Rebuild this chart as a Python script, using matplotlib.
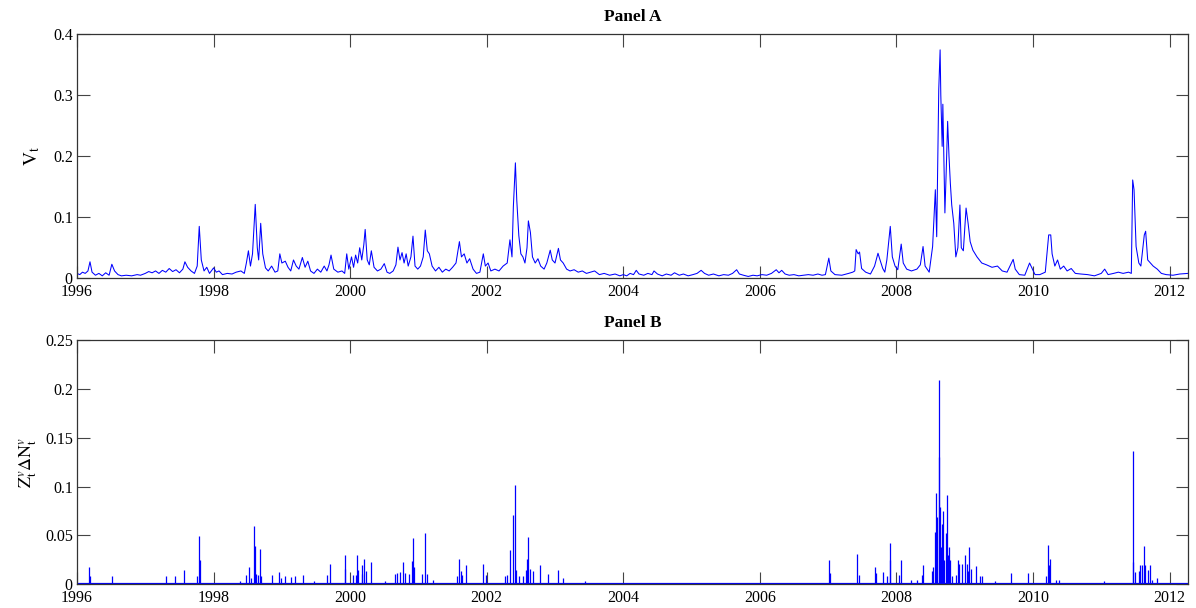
import matplotlib
matplotlib.use("Agg")
import matplotlib.pyplot as plt
from matplotlib.ticker import FuncFormatter

# ---------------- Panel A: V_t ----------------
va_years = [
    1996.00, 1996.04, 1996.08, 1996.12, 1996.16, 1996.19, 1996.22, 1996.27, 1996.32, 1996.37,
    1996.42, 1996.47, 1996.51, 1996.55, 1996.60, 1996.65, 1996.72, 1996.80, 1996.88, 1996.93,
    1997.00, 1997.05, 1997.10, 1997.15, 1997.20, 1997.25, 1997.30, 1997.35, 1997.40, 1997.45,
    1997.50, 1997.55, 1997.58, 1997.62, 1997.67, 1997.72, 1997.76, 1997.79, 1997.82, 1997.86,
    1997.90, 1997.94, 1998.00, 1998.04, 1998.08, 1998.13, 1998.20, 1998.27, 1998.33, 1998.40,
    1998.45, 1998.48, 1998.51, 1998.54, 1998.57, 1998.61, 1998.64, 1998.66, 1998.69, 1998.72,
    1998.76, 1998.80, 1998.85, 1998.90, 1998.94, 1998.97, 1999.00, 1999.05, 1999.09, 1999.13,
    1999.17, 1999.21, 1999.25, 1999.30, 1999.34, 1999.38, 1999.42, 1999.47, 1999.52, 1999.57,
    1999.62, 1999.66, 1999.69, 1999.72, 1999.76, 1999.82, 1999.88, 1999.92, 1999.95, 1999.98,
    2000.02, 2000.05, 2000.08, 2000.11, 2000.14, 2000.17, 2000.20, 2000.22, 2000.25, 2000.28,
    2000.31, 2000.35, 2000.40, 2000.45, 2000.50, 2000.54, 2000.58, 2000.63, 2000.67, 2000.70,
    2000.73, 2000.76, 2000.79, 2000.82, 2000.85, 2000.89, 2000.92, 2000.95, 2000.99, 2001.03,
    2001.07, 2001.10, 2001.13, 2001.16, 2001.20, 2001.25, 2001.30, 2001.35, 2001.40, 2001.45,
    2001.50, 2001.55, 2001.60, 2001.63, 2001.67, 2001.71, 2001.75, 2001.80, 2001.85, 2001.90,
    2001.95, 2001.98, 2002.02, 2002.06, 2002.12, 2002.18, 2002.24, 2002.30, 2002.34, 2002.37,
    2002.39, 2002.42, 2002.44, 2002.47, 2002.50, 2002.53, 2002.56, 2002.59, 2002.61, 2002.64,
    2002.67, 2002.71, 2002.75, 2002.79, 2002.84, 2002.88, 2002.93, 2002.96, 2003.00, 2003.05,
    2003.08, 2003.12, 2003.17, 2003.22, 2003.28, 2003.34, 2003.40, 2003.46, 2003.52, 2003.58,
    2003.65, 2003.72, 2003.80, 2003.88, 2003.95,
    2004.00, 2004.05, 2004.10, 2004.15, 2004.19, 2004.23, 2004.30, 2004.36, 2004.42, 2004.45,
    2004.50, 2004.57, 2004.63, 2004.70, 2004.75, 2004.82, 2004.88, 2004.95, 2005.02, 2005.08,
    2005.14, 2005.19, 2005.25, 2005.32, 2005.40, 2005.47, 2005.54, 2005.60, 2005.66, 2005.70,
    2005.76, 2005.83, 2005.90, 2005.96, 2006.03, 2006.10, 2006.17, 2006.24, 2006.28, 2006.32,
    2006.37, 2006.43, 2006.50, 2006.57, 2006.64, 2006.71, 2006.78, 2006.85, 2006.91, 2006.96,
    2007.01, 2007.04, 2007.10, 2007.20, 2007.30, 2007.36, 2007.39, 2007.41, 2007.44, 2007.46,
    2007.49, 2007.55, 2007.62, 2007.68, 2007.73, 2007.76, 2007.80, 2007.83, 2007.86, 2007.91,
    2007.94, 2007.98, 2008.02, 2008.07, 2008.10, 2008.15, 2008.22, 2008.30, 2008.35, 2008.39,
    2008.42, 2008.48, 2008.53, 2008.57, 2008.59, 2008.62, 2008.64, 2008.65, 2008.67, 2008.68,
    2008.71, 2008.73, 2008.75, 2008.77, 2008.79, 2008.81, 2008.84, 2008.87, 2008.90, 2008.93,
    2008.95, 2008.98, 2009.02, 2009.05, 2009.08, 2009.12, 2009.18, 2009.25, 2009.32, 2009.40,
    2009.48, 2009.55, 2009.62, 2009.71, 2009.74, 2009.80, 2009.88, 2009.95, 2009.98, 2010.03,
    2010.10, 2010.18, 2010.23, 2010.26, 2010.28, 2010.32, 2010.36, 2010.40, 2010.45, 2010.50,
    2010.56, 2010.62, 2010.70, 2010.80, 2010.90, 2011.00, 2011.05, 2011.10, 2011.18, 2011.25,
    2011.32, 2011.40, 2011.44, 2011.46, 2011.48, 2011.51, 2011.55, 2011.58, 2011.61, 2011.63,
    2011.65, 2011.68, 2011.72, 2011.76, 2011.82, 2011.88, 2011.95, 2012.05, 2012.15, 2012.27,
]
va_values = [
    0.008, 0.006, 0.010, 0.008, 0.012, 0.027, 0.010, 0.005, 0.008, 0.004,
    0.009, 0.005, 0.023, 0.012, 0.006, 0.004, 0.005, 0.004, 0.006, 0.005,
    0.008, 0.011, 0.009, 0.012, 0.008, 0.013, 0.010, 0.016, 0.011, 0.014,
    0.009, 0.015, 0.027, 0.018, 0.012, 0.008, 0.020, 0.085, 0.030, 0.012,
    0.018, 0.008, 0.017, 0.010, 0.012, 0.006, 0.008, 0.007, 0.010, 0.012,
    0.008, 0.025, 0.045, 0.020, 0.040, 0.121, 0.050, 0.030, 0.090, 0.040,
    0.017, 0.012, 0.020, 0.010, 0.012, 0.040, 0.025, 0.028, 0.018, 0.012,
    0.030, 0.020, 0.015, 0.034, 0.018, 0.028, 0.012, 0.008, 0.015, 0.010,
    0.020, 0.012, 0.022, 0.038, 0.015, 0.010, 0.012, 0.008, 0.040, 0.015,
    0.035, 0.018, 0.038, 0.025, 0.050, 0.030, 0.055, 0.080, 0.030, 0.022,
    0.045, 0.018, 0.012, 0.015, 0.024, 0.010, 0.008, 0.012, 0.022, 0.051,
    0.030, 0.042, 0.025, 0.040, 0.020, 0.035, 0.069, 0.020, 0.015, 0.020,
    0.035, 0.079, 0.045, 0.040, 0.020, 0.012, 0.018, 0.010, 0.015, 0.012,
    0.018, 0.025, 0.060, 0.035, 0.040, 0.025, 0.032, 0.015, 0.008, 0.010,
    0.040, 0.020, 0.025, 0.012, 0.015, 0.012, 0.020, 0.025, 0.063, 0.035,
    0.117, 0.189, 0.128, 0.070, 0.040, 0.035, 0.025, 0.050, 0.094, 0.075,
    0.035, 0.025, 0.032, 0.020, 0.015, 0.025, 0.046, 0.030, 0.025, 0.049,
    0.030, 0.025, 0.015, 0.012, 0.014, 0.010, 0.012, 0.008, 0.010, 0.012,
    0.006, 0.008, 0.005, 0.007, 0.004,
    0.006, 0.004, 0.008, 0.006, 0.013, 0.007, 0.005, 0.008, 0.006, 0.012,
    0.007, 0.004, 0.007, 0.005, 0.009, 0.005, 0.007, 0.004, 0.006, 0.008,
    0.013, 0.008, 0.005, 0.007, 0.004, 0.006, 0.005, 0.008, 0.014, 0.007,
    0.005, 0.003, 0.005, 0.004, 0.006, 0.005, 0.008, 0.014, 0.009, 0.013,
    0.007, 0.005, 0.006, 0.004, 0.005, 0.006, 0.005, 0.007, 0.005, 0.006,
    0.033, 0.012, 0.006, 0.005, 0.008, 0.010, 0.012, 0.047, 0.040, 0.043,
    0.016, 0.010, 0.007, 0.020, 0.041, 0.030, 0.016, 0.010, 0.030, 0.085,
    0.035, 0.020, 0.014, 0.056, 0.025, 0.015, 0.012, 0.015, 0.022, 0.052,
    0.020, 0.010, 0.052, 0.145, 0.068, 0.309, 0.374, 0.300, 0.216, 0.285,
    0.107, 0.178, 0.257, 0.200, 0.155, 0.120, 0.090, 0.035, 0.050, 0.120,
    0.050, 0.045, 0.115, 0.090, 0.060, 0.046, 0.035, 0.025, 0.022, 0.018,
    0.020, 0.012, 0.010, 0.031, 0.015, 0.006, 0.005, 0.025, 0.018, 0.006,
    0.006, 0.010, 0.071, 0.071, 0.040, 0.020, 0.030, 0.015, 0.020, 0.012,
    0.016, 0.008, 0.007, 0.006, 0.004, 0.008, 0.015, 0.006, 0.008, 0.010,
    0.008, 0.010, 0.008, 0.161, 0.145, 0.052, 0.025, 0.020, 0.050, 0.071,
    0.077, 0.030, 0.025, 0.020, 0.015, 0.008, 0.006, 0.005, 0.007, 0.008,
]

# ---------------- Panel B: jump sizes Z_t^v * dN_t^v ----------------
jump_years = [
    1996.17, 1996.19, 1996.51, 1997.31, 1997.44, 1997.57, 1997.75, 1997.78, 1997.80,
    1998.39, 1998.48, 1998.52, 1998.55, 1998.59, 1998.60, 1998.62, 1998.65, 1998.68, 1998.70,
    1998.85, 1998.96, 1998.98, 1999.05, 1999.14, 1999.19, 1999.31, 1999.47, 1999.66, 1999.70,
    1999.92, 1999.93, 2000.04, 2000.08, 2000.10, 2000.12, 2000.17, 2000.18, 2000.21, 2000.23,
    2000.31, 2000.51, 2000.66, 2000.68, 2000.73, 2000.78, 2000.81, 2000.86, 2000.91, 2000.92,
    2000.94, 2001.05, 2001.10, 2001.13, 2001.22, 2001.56, 2001.59, 2001.62, 2001.64, 2001.69,
    2001.94, 2001.99, 2002.27, 2002.30, 2002.34, 2002.38, 2002.41, 2002.43, 2002.48, 2002.53,
    2002.58, 2002.59, 2002.61, 2002.64, 2002.68, 2002.78, 2002.90, 2003.04, 2003.11, 2003.44,
    2007.01, 2007.02, 2007.42, 2007.45, 2007.68, 2007.70, 2007.80, 2007.86, 2007.90, 2007.91,
    2008.04, 2008.06, 2008.21, 2008.30, 2008.37, 2008.39, 2008.52, 2008.53, 2008.56, 2008.58,
    2008.59, 2008.62, 2008.63, 2008.64, 2008.65, 2008.67, 2008.68, 2008.70, 2008.72, 2008.74,
    2008.75, 2008.77, 2008.78, 2008.82, 2008.87, 2008.90, 2008.92, 2008.96, 2009.01, 2009.03,
    2009.05, 2009.07, 2009.09, 2009.17, 2009.22, 2009.26, 2009.45, 2009.68, 2009.93,
    2010.19, 2010.22, 2010.23, 2010.25, 2010.33, 2010.38, 2011.04, 2011.46, 2011.47, 2011.49,
    2011.55, 2011.57, 2011.60, 2011.62, 2011.64, 2011.68, 2011.72, 2011.75, 2011.81,
]
jump_sizes = [
    0.018, 0.008, 0.008, 0.008, 0.008, 0.015, 0.008, 0.049, 0.025,
    0.003, 0.009, 0.018, 0.006, 0.060, 0.039, 0.011, 0.009, 0.036, 0.008,
    0.009, 0.013, 0.006, 0.008, 0.007, 0.008, 0.009, 0.003, 0.009, 0.021,
    0.030, 0.016, 0.010, 0.010, 0.030, 0.015, 0.020, 0.011, 0.026, 0.014,
    0.023, 0.003, 0.011, 0.012, 0.013, 0.023, 0.012, 0.011, 0.024, 0.047,
    0.018, 0.011, 0.052, 0.011, 0.004, 0.008, 0.026, 0.014, 0.010, 0.020,
    0.021, 0.010, 0.008, 0.010, 0.035, 0.071, 0.102, 0.015, 0.008, 0.008,
    0.015, 0.026, 0.048, 0.016, 0.014, 0.020, 0.011, 0.015, 0.006, 0.003,
    0.025, 0.012, 0.031, 0.009, 0.018, 0.012, 0.013, 0.008, 0.042, 0.025,
    0.009, 0.025, 0.004, 0.004, 0.009, 0.020, 0.014, 0.018, 0.053, 0.093,
    0.069, 0.209, 0.130, 0.079, 0.038, 0.062, 0.075, 0.025, 0.052, 0.091,
    0.030, 0.038, 0.025, 0.008, 0.009, 0.025, 0.021, 0.021, 0.030, 0.021,
    0.014, 0.038, 0.016, 0.019, 0.008, 0.008, 0.003, 0.012, 0.012,
    0.008, 0.040, 0.020, 0.026, 0.004, 0.004, 0.003, 0.136, 0.023, 0.013,
    0.014, 0.020, 0.020, 0.039, 0.020, 0.015, 0.020, 0.004, 0.006,
]

x_start, x_end = 1996.0, 2012.27
x_ticks = [1996, 1998, 2000, 2002, 2004, 2006, 2008, 2010, 2012]
ya_ticks = [0, 0.1, 0.2, 0.3, 0.4]
yb_ticks = [0, 0.05, 0.1, 0.15, 0.2, 0.25]

plt.rcParams["font.family"] = ["Liberation Serif", "DejaVu Serif"]
plt.rcParams["mathtext.fontset"] = "stix"

fig = plt.figure(figsize=(11.96, 6.08), dpi=100)
axA = fig.add_axes([0.0644, 0.5423, 0.9289, 0.4018])
axB = fig.add_axes([0.0644, 0.0390, 0.9289, 0.4018])

blue = "#0000ff"
axA.plot(va_years, va_values, color=blue, lw=0.75)
axB.plot([x_start, x_end], [0, 0], color=blue, lw=1.6)
axB.vlines(jump_years, 0, jump_sizes, color=blue, lw=0.9)

fmt = FuncFormatter(lambda v, p: "%g" % v)
for ax, yt, ylim in ((axA, ya_ticks, (0, 0.4)), (axB, yb_ticks, (0, 0.25))):
    ax.set_xlim(x_start, x_end)
    ax.set_ylim(*ylim)
    ax.set_xticks(x_ticks)
    ax.set_yticks(yt)
    ax.yaxis.set_major_formatter(fmt)
    ax.tick_params(direction="in", length=9, width=0.8, top=True, right=True,
                   labelsize=11.5, colors="#444444", labelcolor="black")
    ax.tick_params(axis="x", pad=4)
    ax.tick_params(axis="y", pad=3)
    for s in ax.spines.values():
        s.set_color("#333333")
        s.set_linewidth(0.9)

axA.set_title("Panel A", fontsize=12.5, fontweight="bold", pad=9)
axB.set_title("Panel B", fontsize=12.5, fontweight="bold", pad=9)
axA.set_ylabel(r"$\mathrm{V}_{\mathrm{t}}$", fontsize=14, labelpad=8)
axB.set_ylabel(r"$\mathrm{Z}^{v}_{\mathrm{t}}\Delta\mathrm{N}^{v}_{\mathrm{t}}$", fontsize=13, labelpad=4)

fig.savefig("out.png", dpi=100)
